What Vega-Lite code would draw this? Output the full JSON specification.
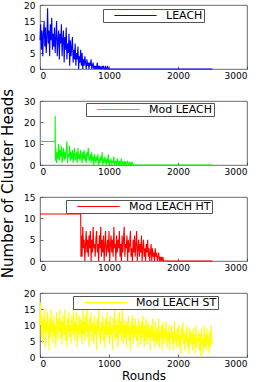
{
"$schema": "https://vega.github.io/schema/vega-lite/v6.json",
"padding": {"left": -1, "top": 0, "right": 0, "bottom": 0},
"bounds": "flush",
"spacing": 32,
"config": {
  "font": "DejaVu Sans",
  "view": {"stroke": "#444", "strokeWidth": 0.8},
  "axis": {"grid": false, "domain": false, "tickColor": "#444", "tickSize": -3, "tickWidth": 0.8, "labelFontSize": 9, "labelColor": "#000", "titleColor": "#000", "titleFontWeight": "normal", "format": "d"},
  "legend": {"symbolType": "M-4.7,0H4.7", "symbolSize": 81, "symbolStrokeWidth": 1, "labelFontSize": 11, "labelColor": "#000", "padding": 1, "strokeColor": "#555", "fillColor": "#fff", "symbolOffset": 26, "labelOffset": 25}
},
"datasets": {
"leach": [{"x":0,"y":9},{"x":10,"y":14},{"x":20,"y":6},{"x":30,"y":12},{"x":40,"y":4},{"x":50,"y":11},{"x":60,"y":15},{"x":70,"y":7},{"x":80,"y":13},{"x":90,"y":5},{"x":100,"y":10},
{"x":110,"y":19},{"x":120,"y":8},{"x":130,"y":12},{"x":140,"y":4},{"x":150,"y":14},{"x":160,"y":9},{"x":170,"y":16},{"x":180,"y":6},{"x":190,"y":11},{"x":200,"y":7},
{"x":210,"y":13},{"x":220,"y":5},{"x":230,"y":10},{"x":240,"y":15},{"x":250,"y":4},{"x":260,"y":9},{"x":270,"y":12},{"x":280,"y":3},{"x":290,"y":11},{"x":300,"y":8},
{"x":310,"y":14},{"x":320,"y":4},{"x":330,"y":9},{"x":340,"y":12},{"x":350,"y":2},{"x":360,"y":10},{"x":370,"y":6},{"x":380,"y":13},{"x":390,"y":3},{"x":400,"y":8},
{"x":410,"y":5},{"x":420,"y":11},{"x":430,"y":1},{"x":440,"y":9},{"x":450,"y":4},{"x":460,"y":7},{"x":470,"y":10},{"x":480,"y":2},{"x":490,"y":6},{"x":500,"y":3},
{"x":510,"y":8},{"x":520,"y":1},{"x":530,"y":5},{"x":540,"y":3},{"x":550,"y":7},{"x":560,"y":0},{"x":570,"y":4},{"x":580,"y":2},{"x":590,"y":6},{"x":600,"y":1},
{"x":610,"y":5},{"x":620,"y":0},{"x":630,"y":3},{"x":640,"y":1},{"x":650,"y":4},{"x":660,"y":2},{"x":670,"y":0},{"x":680,"y":3},{"x":690,"y":1},{"x":700,"y":2},
{"x":710,"y":0},{"x":720,"y":2},{"x":730,"y":1},{"x":740,"y":3},{"x":750,"y":0},{"x":760,"y":1},{"x":770,"y":2},{"x":780,"y":0},{"x":790,"y":1},{"x":800,"y":0},
{"x":810,"y":1},{"x":820,"y":0},{"x":830,"y":2},{"x":840,"y":0},{"x":850,"y":1},{"x":860,"y":0},{"x":870,"y":1},{"x":880,"y":0},{"x":890,"y":0},{"x":900,"y":1},
{"x":910,"y":0},{"x":920,"y":1},{"x":930,"y":0},{"x":940,"y":0},{"x":950,"y":1},{"x":960,"y":0},{"x":970,"y":0},{"x":980,"y":1},{"x":990,"y":0},{"x":1000,"y":0},{"x":2500,"y":0}],
"mod": [{"x":0,"y":11},{"x":218,"y":11},{"x":220,"y":23},{"x":223,"y":2},
{"x":230,"y":8},{"x":240,"y":1},{"x":250,"y":6},{"x":260,"y":3},{"x":270,"y":10},{"x":280,"y":2},{"x":290,"y":7},{"x":300,"y":4},{"x":310,"y":9},{"x":320,"y":1},
{"x":330,"y":5},{"x":340,"y":8},{"x":350,"y":2},{"x":360,"y":6},{"x":370,"y":3},{"x":380,"y":7},{"x":390,"y":11},{"x":400,"y":1},{"x":410,"y":5},{"x":420,"y":4},
{"x":430,"y":9},{"x":440,"y":2},{"x":450,"y":6},{"x":460,"y":3},{"x":470,"y":7},{"x":480,"y":1},{"x":490,"y":5},{"x":500,"y":8},{"x":510,"y":2},{"x":520,"y":4},
{"x":530,"y":6},{"x":540,"y":1},{"x":550,"y":8},{"x":560,"y":3},{"x":570,"y":5},{"x":580,"y":2},{"x":590,"y":7},{"x":600,"y":4},{"x":610,"y":1},{"x":620,"y":6},
{"x":630,"y":3},{"x":640,"y":7},{"x":650,"y":2},{"x":660,"y":5},{"x":670,"y":1},{"x":680,"y":6},{"x":690,"y":4},{"x":700,"y":8},{"x":710,"y":2},{"x":720,"y":3},
{"x":730,"y":5},{"x":740,"y":1},{"x":750,"y":6},{"x":760,"y":2},{"x":770,"y":4},{"x":780,"y":0},{"x":790,"y":5},{"x":800,"y":3},{"x":810,"y":1},{"x":820,"y":4},
{"x":830,"y":2},{"x":840,"y":5},{"x":850,"y":0},{"x":860,"y":3},{"x":870,"y":1},{"x":880,"y":4},{"x":890,"y":2},{"x":900,"y":6},{"x":910,"y":0},{"x":920,"y":3},
{"x":930,"y":1},{"x":940,"y":4},{"x":950,"y":2},{"x":960,"y":0},{"x":970,"y":3},{"x":980,"y":1},{"x":990,"y":5},{"x":1000,"y":0},{"x":1010,"y":2},{"x":1020,"y":1},
{"x":1030,"y":3},{"x":1040,"y":0},{"x":1050,"y":2},{"x":1060,"y":1},{"x":1070,"y":4},{"x":1080,"y":0},{"x":1090,"y":1},{"x":1100,"y":2},{"x":1110,"y":0},{"x":1120,"y":3},
{"x":1130,"y":1},{"x":1140,"y":0},{"x":1150,"y":2},{"x":1160,"y":0},{"x":1170,"y":1},{"x":1180,"y":3},{"x":1190,"y":0},{"x":1200,"y":1},{"x":1210,"y":0},{"x":1220,"y":2},
{"x":1230,"y":0},{"x":1240,"y":1},{"x":1250,"y":0},{"x":1260,"y":1},{"x":1270,"y":2},{"x":1280,"y":0},{"x":1290,"y":0},{"x":1300,"y":1},{"x":1310,"y":0},{"x":1320,"y":1},
{"x":1330,"y":0},{"x":1340,"y":1},{"x":1350,"y":0},{"x":2500,"y":0}],
"ht": [{"x":0,"y":11},{"x":590,"y":11},{"x":593,"y":1},
{"x":600,"y":6},{"x":610,"y":1},{"x":620,"y":8},{"x":630,"y":3},{"x":640,"y":5},{"x":650,"y":0},{"x":660,"y":4},{"x":670,"y":7},{"x":680,"y":2},{"x":690,"y":5},
{"x":700,"y":1},{"x":710,"y":6},{"x":720,"y":3},{"x":730,"y":7},{"x":740,"y":0},{"x":750,"y":5},{"x":760,"y":2},{"x":770,"y":8},{"x":780,"y":3},{"x":790,"y":4},
{"x":800,"y":1},{"x":810,"y":5},{"x":820,"y":7},{"x":830,"y":2},{"x":840,"y":4},{"x":850,"y":0},{"x":860,"y":6},{"x":870,"y":3},{"x":880,"y":8},{"x":890,"y":1},
{"x":900,"y":5},{"x":910,"y":2},{"x":920,"y":6},{"x":930,"y":0},{"x":940,"y":4},{"x":950,"y":7},{"x":960,"y":1},{"x":970,"y":3},{"x":980,"y":5},{"x":990,"y":2},
{"x":1000,"y":7},{"x":1010,"y":0},{"x":1020,"y":4},{"x":1030,"y":6},{"x":1040,"y":2},{"x":1050,"y":5},{"x":1060,"y":1},{"x":1070,"y":8},{"x":1080,"y":3},{"x":1090,"y":4},
{"x":1100,"y":0},{"x":1110,"y":6},{"x":1120,"y":2},{"x":1130,"y":5},{"x":1140,"y":3},{"x":1150,"y":7},{"x":1160,"y":1},{"x":1170,"y":4},{"x":1180,"y":0},{"x":1190,"y":6},
{"x":1200,"y":2},{"x":1210,"y":5},{"x":1220,"y":8},{"x":1230,"y":1},{"x":1240,"y":4},{"x":1250,"y":3},{"x":1260,"y":6},{"x":1270,"y":0},{"x":1280,"y":5},{"x":1290,"y":2},
{"x":1300,"y":4},{"x":1310,"y":7},{"x":1320,"y":1},{"x":1330,"y":3},{"x":1340,"y":0},{"x":1350,"y":5},{"x":1360,"y":2},{"x":1370,"y":6},{"x":1380,"y":1},{"x":1390,"y":4},
{"x":1400,"y":7},{"x":1410,"y":0},{"x":1420,"y":3},{"x":1430,"y":5},{"x":1440,"y":1},{"x":1450,"y":4},{"x":1460,"y":2},{"x":1470,"y":6},{"x":1480,"y":0},{"x":1490,"y":3},
{"x":1500,"y":5},{"x":1510,"y":1},{"x":1520,"y":3},{"x":1530,"y":0},{"x":1540,"y":4},{"x":1550,"y":2},{"x":1560,"y":5},{"x":1570,"y":1},{"x":1580,"y":3},{"x":1590,"y":0},
{"x":1600,"y":2},{"x":1610,"y":4},{"x":1620,"y":0},{"x":1630,"y":3},{"x":1640,"y":1},{"x":1650,"y":2},{"x":1660,"y":0},{"x":1670,"y":3},{"x":1680,"y":1},{"x":1690,"y":2},
{"x":1700,"y":0},{"x":1710,"y":1},{"x":1720,"y":2},{"x":1730,"y":0},{"x":1740,"y":1},{"x":1750,"y":0},{"x":1760,"y":1},{"x":1770,"y":0},{"x":1780,"y":1},{"x":1790,"y":0},
{"x":1800,"y":0},{"x":2500,"y":0}],
"st": [{"x":0,"y":10},{"x":10,"y":17},{"x":20,"y":6},{"x":30,"y":13},{"x":40,"y":4},{"x":50,"y":12},{"x":60,"y":8},{"x":70,"y":15},{"x":80,"y":3},{"x":90,"y":11},
{"x":100,"y":7},{"x":110,"y":14},{"x":120,"y":9},{"x":130,"y":2},{"x":140,"y":12},{"x":150,"y":6},{"x":160,"y":15},{"x":170,"y":8},{"x":180,"y":11},{"x":190,"y":4},
{"x":200,"y":13},{"x":210,"y":7},{"x":220,"y":10},{"x":230,"y":3},{"x":240,"y":14},{"x":250,"y":9},{"x":260,"y":5},{"x":270,"y":12},{"x":280,"y":8},{"x":290,"y":15},
{"x":300,"y":6},{"x":310,"y":11},{"x":320,"y":4},{"x":330,"y":13},{"x":340,"y":9},{"x":350,"y":7},{"x":360,"y":15},{"x":370,"y":5},{"x":380,"y":10},{"x":390,"y":3},
{"x":400,"y":12},{"x":410,"y":8},{"x":420,"y":14},{"x":430,"y":6},{"x":440,"y":10},{"x":450,"y":4},{"x":460,"y":13},{"x":470,"y":9},{"x":480,"y":7},{"x":490,"y":15},
{"x":500,"y":5},{"x":510,"y":11},{"x":520,"y":8},{"x":530,"y":14},{"x":540,"y":3},{"x":550,"y":10},{"x":560,"y":7},{"x":570,"y":13},{"x":580,"y":6},{"x":590,"y":12},
{"x":600,"y":9},{"x":610,"y":4},{"x":620,"y":15},{"x":630,"y":7},{"x":640,"y":11},{"x":650,"y":5},{"x":660,"y":13},{"x":670,"y":8},{"x":680,"y":16},{"x":690,"y":6},
{"x":700,"y":10},{"x":710,"y":3},{"x":720,"y":12},{"x":730,"y":8},{"x":740,"y":14},{"x":750,"y":5},{"x":760,"y":9},{"x":770,"y":11},{"x":780,"y":4},{"x":790,"y":13},
{"x":800,"y":7},{"x":810,"y":10},{"x":820,"y":2},{"x":830,"y":12},{"x":840,"y":8},{"x":850,"y":15},{"x":860,"y":6},{"x":870,"y":9},{"x":880,"y":4},{"x":890,"y":11},
{"x":900,"y":8},{"x":910,"y":13},{"x":920,"y":5},{"x":930,"y":10},{"x":940,"y":3},{"x":950,"y":12},{"x":960,"y":7},{"x":970,"y":14},{"x":980,"y":6},{"x":990,"y":9},
{"x":1000,"y":11},{"x":1010,"y":4},{"x":1020,"y":13},{"x":1030,"y":7},{"x":1040,"y":9},{"x":1050,"y":2},{"x":1060,"y":12},{"x":1070,"y":8},{"x":1080,"y":15},{"x":1090,"y":5},
{"x":1100,"y":10},{"x":1110,"y":6},{"x":1120,"y":12},{"x":1130,"y":3},{"x":1140,"y":9},{"x":1150,"y":14},{"x":1160,"y":7},{"x":1170,"y":11},{"x":1180,"y":5},{"x":1190,"y":16},
{"x":1200,"y":8},{"x":1210,"y":4},{"x":1220,"y":12},{"x":1230,"y":6},{"x":1240,"y":10},{"x":1250,"y":3},{"x":1260,"y":11},{"x":1270,"y":7},{"x":1280,"y":13},{"x":1290,"y":5},
{"x":1300,"y":9},{"x":1310,"y":2},{"x":1320,"y":11},{"x":1330,"y":7},{"x":1340,"y":13},{"x":1350,"y":4},{"x":1360,"y":10},{"x":1370,"y":6},{"x":1380,"y":12},{"x":1390,"y":8},
{"x":1400,"y":5},{"x":1410,"y":10},{"x":1420,"y":3},{"x":1430,"y":12},{"x":1440,"y":7},{"x":1450,"y":9},{"x":1460,"y":4},{"x":1470,"y":11},{"x":1480,"y":6},{"x":1490,"y":13},
{"x":1500,"y":8},{"x":1510,"y":3},{"x":1520,"y":10},{"x":1530,"y":5},{"x":1540,"y":12},{"x":1550,"y":7},{"x":1560,"y":4},{"x":1570,"y":11},{"x":1580,"y":6},{"x":1590,"y":9},
{"x":1600,"y":2},{"x":1610,"y":10},{"x":1620,"y":6},{"x":1630,"y":12},{"x":1640,"y":5},{"x":1650,"y":8},{"x":1660,"y":3},{"x":1670,"y":11},{"x":1680,"y":7},{"x":1690,"y":4},
{"x":1700,"y":9},{"x":1710,"y":5},{"x":1720,"y":12},{"x":1730,"y":3},{"x":1740,"y":8},{"x":1750,"y":6},{"x":1760,"y":10},{"x":1770,"y":2},{"x":1780,"y":11},{"x":1790,"y":7},
{"x":1800,"y":4},{"x":1810,"y":9},{"x":1820,"y":6},{"x":1830,"y":11},{"x":1840,"y":3},{"x":1850,"y":8},{"x":1860,"y":5},{"x":1870,"y":10},{"x":1880,"y":2},{"x":1890,"y":7},
{"x":1900,"y":6},{"x":1910,"y":10},{"x":1920,"y":4},{"x":1930,"y":8},{"x":1940,"y":2},{"x":1950,"y":11},{"x":1960,"y":5},{"x":1970,"y":7},{"x":1980,"y":3},{"x":1990,"y":9},
{"x":2000,"y":5},{"x":2010,"y":10},{"x":2020,"y":3},{"x":2030,"y":7},{"x":2040,"y":1},{"x":2050,"y":9},{"x":2060,"y":6},{"x":2070,"y":11},{"x":2080,"y":4},{"x":2090,"y":8},
{"x":2100,"y":2},{"x":2110,"y":7},{"x":2120,"y":5},{"x":2130,"y":10},{"x":2140,"y":3},{"x":2150,"y":6},{"x":2160,"y":1},{"x":2170,"y":9},{"x":2180,"y":4},{"x":2190,"y":8},
{"x":2200,"y":6},{"x":2210,"y":2},{"x":2220,"y":9},{"x":2230,"y":4},{"x":2240,"y":7},{"x":2250,"y":1},{"x":2260,"y":10},{"x":2270,"y":3},{"x":2280,"y":6},{"x":2290,"y":5},
{"x":2300,"y":8},{"x":2310,"y":2},{"x":2320,"y":7},{"x":2330,"y":0},{"x":2340,"y":9},{"x":2350,"y":4},{"x":2360,"y":6},{"x":2370,"y":1},{"x":2380,"y":10},{"x":2390,"y":3},
{"x":2400,"y":7},{"x":2410,"y":2},{"x":2420,"y":9},{"x":2430,"y":4},{"x":2440,"y":6},{"x":2450,"y":1},{"x":2460,"y":8},{"x":2470,"y":3},{"x":2480,"y":10},{"x":2490,"y":5},
{"x":2500,"y":4}]
},
"vconcat": [
{
  "width": 207, "height": 64,
  "data": {"name": "leach"},
  "mark": {"type": "line", "strokeWidth": 1.1},
  "encoding": {
    "x": {"field": "x", "type": "quantitative", "scale": {"domain": [0, 3000], "nice": false}, "axis": {"values": [0, 1000, 2000, 3000], "title": null, "labelPadding": 5}},
    "y": {"field": "y", "type": "quantitative", "scale": {"domain": [0, 20], "nice": false}, "axis": {"values": [0, 5, 10, 15, 20], "title": null, "labelPadding": 8}},
    "color": {"datum": "LEACH", "scale": {"domain": ["LEACH"], "range": ["#0000ff"]}, "legend": {"title": null, "symbolType": "M-4.7,0H4.7", "orient": "none", "legendX": 63, "legendY": 4}}
  }
},
{
  "width": 207, "height": 64,
  "data": {"name": "mod"},
  "mark": {"type": "line", "strokeWidth": 1.1},
  "encoding": {
    "x": {"field": "x", "type": "quantitative", "scale": {"domain": [0, 3000], "nice": false}, "axis": {"values": [0, 1000, 2000, 3000], "title": null, "labelPadding": 5}},
    "y": {"field": "y", "type": "quantitative", "scale": {"domain": [0, 30], "nice": false}, "axis": {"values": [0, 10, 20, 30], "title": "Number of Cluster Heads", "labelPadding": 8, "titleFontSize": 15, "titleX": -28, "titleY": 82, "titleAngle": 270, "titleAlign": "center", "titleBaseline": "alphabetic"}},
    "color": {"datum": "Mod LEACH", "scale": {"domain": ["Mod LEACH"], "range": ["#00ff00"]}, "legend": {"title": null, "symbolType": "M-4.7,0H4.7", "orient": "none", "legendX": 46, "legendY": 2}}
  }
},
{
  "width": 207, "height": 64,
  "data": {"name": "ht"},
  "mark": {"type": "line", "strokeWidth": 1.1},
  "encoding": {
    "x": {"field": "x", "type": "quantitative", "scale": {"domain": [0, 3000], "nice": false}, "axis": {"values": [0, 1000, 2000, 3000], "title": null, "labelPadding": 5}},
    "y": {"field": "y", "type": "quantitative", "scale": {"domain": [0, 15], "nice": false}, "axis": {"values": [0, 5, 10, 15], "title": null, "labelPadding": 8}},
    "color": {"datum": "Mod LEACH HT", "scale": {"domain": ["Mod LEACH HT"], "range": ["#ff0000"]}, "legend": {"title": null, "symbolType": "M-4.7,0H4.7", "orient": "none", "legendX": 26, "legendY": 3}}
  }
},
{
  "width": 207, "height": 64,
  "data": {"name": "st"},
  "mark": {"type": "line", "strokeWidth": 1.1},
  "encoding": {
    "x": {"field": "x", "type": "quantitative", "scale": {"domain": [0, 3000], "nice": false}, "axis": {"values": [0, 1000, 2000, 3000], "title": "Rounds", "labelPadding": 5, "titleFontSize": 12, "titlePadding": 2}},
    "y": {"field": "y", "type": "quantitative", "scale": {"domain": [0, 20], "nice": false}, "axis": {"values": [0, 5, 10, 15, 20], "title": null, "labelPadding": 8}},
    "color": {"datum": "Mod LEACH ST", "scale": {"domain": ["Mod LEACH ST"], "range": ["#ffff00"]}, "legend": {"title": null, "symbolType": "M-4.7,0H4.7", "orient": "none", "legendX": 33, "legendY": 3}}
  }
}
],
"resolve": {"scale": {"color": "independent"}, "legend": {"color": "independent"}}
}
